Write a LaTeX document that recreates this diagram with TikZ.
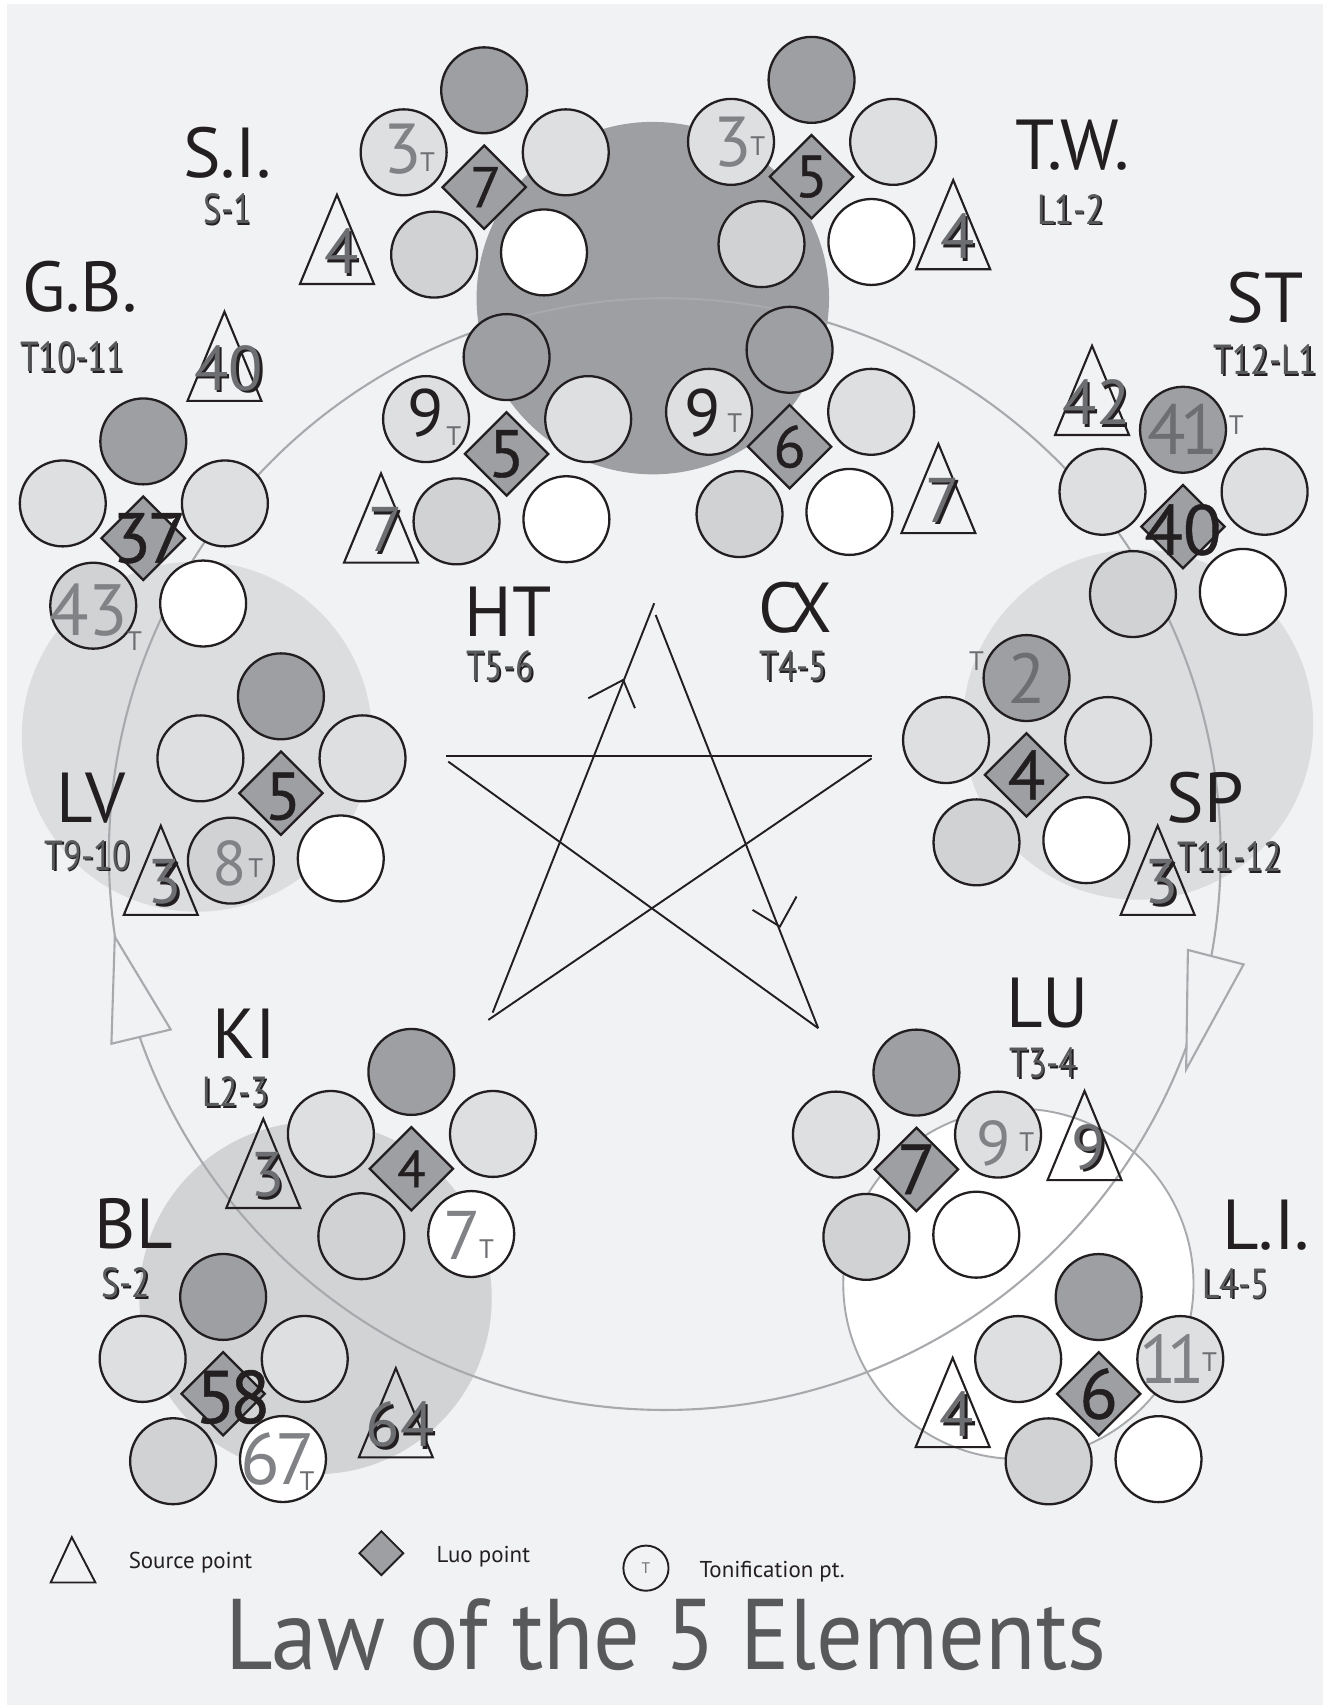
\documentclass[tikz,border=0pt]{standalone}
\usepackage{fontspec}
\setmainfont{PT Sans}
\newfontfamily\narrowfont[FakeStretch=0.8]{PT Sans}
\newfontfamily\titlefont[FakeStretch=0.92]{PT Sans}
\newfontfamily\luofont[FakeBold=0.6]{PT Sans}
\usepackage{tikz}
\usetikzlibrary{
  shapes.geometric,
  calc
}
\definecolor{pagegrey}{HTML}{F1F2F4}
\definecolor{firedark}{HTML}{9D9FA2}
\definecolor{ptlight}{HTML}{DEDFE1}
\definecolor{ptmid}{HTML}{D0D2D4}
\definecolor{zonelight}{HTML}{DCDDDF}
\definecolor{zonemid}{HTML}{D1D3D5}
\definecolor{ringgrey}{HTML}{A7A9AC}
\definecolor{numgrey}{HTML}{808285}
\definecolor{tgrey}{HTML}{6D6E71}
\definecolor{subgrey}{HTML}{58595B}
\definecolor{inkblack}{HTML}{231F20}
\newcommand{\dropsh}[1]{\leavevmode\rlap{\kern0.04em\raisebox{-0.04em}{\color{inkblack}#1}}#1}

\begin{document}
\begin{tikzpicture}[
    x=0.02cm, y=-0.02cm,
    pt/.style={circle, draw=inkblack, line width=1.2pt, minimum size=1.58cm, inner sep=0pt},
    luo/.style={diamond, draw=inkblack, line width=1.2pt, fill=firedark, minimum width=1.55cm, minimum height=1.55cm, inner sep=0pt},
    srcline/.style={draw=inkblack, line width=1.1pt},
    starline/.style={draw=inkblack, line width=1pt},
    organ/.style={inner sep=0pt, font=\fontsize{37}{40}\selectfont, text=inkblack},
    spine/.style={inner sep=0pt, font=\narrowfont\fontsize{22}{24}\selectfont, text=subgrey},
    luonum/.style={inner sep=0pt, font=\luofont\fontsize{#1}{#1}\selectfont, text=inkblack},
    srcnum/.style={inner sep=0pt, font=\fontsize{33}{33}\selectfont, text=tgrey},
    tonnum/.style={inner sep=0pt, font=\fontsize{#1}{#1}\selectfont, text=numgrey},
    tmark/.style={inner sep=0pt, font=\fontsize{14}{14}\selectfont, text=tgrey},
    legtext/.style={inner sep=0pt, font=\fontsize{12}{12}\selectfont, text=inkblack},
    cluster/.pic={
      \node[pt, fill=firedark] (-t) at (0,-89) {};
      \node[pt, fill=ptlight] (-l) at (-74,-32) {};
      \node[pt, fill=ptlight] (-r) at (75,-32) {};
      \node[pt, fill=ptmid] (-bl) at (-46,62) {};
      \node[pt, fill=white] (-br) at (55,60) {};
      \node[luo] (-d) at (0,0) {};
    },
    source/.pic={
      \draw[srcline] (-34,0) -- (0,-82) -- (34,0) -- cycle;
      \node[srcnum] (-n) at (4,-29) {\dropsh{#1}};
    },
]

% === Page ===
\fill[white] (0,0) rectangle (1217,1568);
\fill[pagegrey] (6,4) rectangle (1216,1567);
\useasboundingbox (0,0) rectangle (1217,1568);

% === Element zones ===
\fill[firedark] (600,274) circle[radius=3.24cm];
\fill[zonelight] (181,677) circle[radius=3.22cm];
\fill[zonelight] (1046,666) circle[radius=3.22cm];
\fill[zonemid] (290,1193) circle[radius=3.24cm];
\filldraw[fill=white, draw=ringgrey, line width=1pt] (936,1180) circle[radius=3.22cm];

% === Generation cycle ===
\draw[ringgrey, line width=1.1pt] (611,785) circle[radius=10.22cm];
\filldraw[fill=pagegrey, draw=ringgrey, line width=1.1pt] (105.5,861) -- (102.4,959.3) -- (156.9,946.2) -- cycle;
\filldraw[fill=pagegrey, draw=ringgrey, line width=1.1pt] (1091.8,873.1) -- (1143,886.4) -- (1090.2,982.9) -- cycle;

% === Point groups ===
\pic (si) at (445,172) {cluster};
\pic (tw) at (745.9,162.4) {cluster};
\pic (ht) at (465.6,417.2) {cluster};
\pic (cx) at (725.7,410.5) {cluster};
\pic (gb) at (131.7,494.7) {cluster};
\pic (st) at (1087.3,484) {cluster};
\pic (lv) at (258.2,729) {cluster};
\pic (sp) at (943.5,712.2) {cluster};
\pic (ki) at (378.1,1074.2) {cluster};
\pic (bl) at (205.1,1281) {cluster};
\pic (lu) at (842.3,1074.8) {cluster};
\pic (li) at (1009.8,1281.1) {cluster};

% === Source points ===
\pic (sisrc) at (309.7,261) {source=4};
\pic (twsrc) at (876.1,247.5) {source=4};
\pic (htsrc) at (350.2,517.1) {source=7};
\pic (cxsrc) at (862.5,490) {source=7};
\pic (gbsrc) at (206.3,368.5) {source=40};
\pic (stsrc) at (1003.7,399.8) {source=42};
\pic (lvsrc) at (147.8,840.9) {source=3};
\pic (spsrc) at (1064,840.9) {source=3};
\pic (kisrc) at (242,1110.3) {source=3};
\pic (blsrc) at (363.8,1339.5) {source=64};
\pic (lusrc) at (996.8,1084.7) {source=9};
\pic (lisrc) at (875.6,1330) {source=4};

% === Luo points ===
\node[luonum=30] (siluo) at ($(si-d)+(1.5,0)$) {7};
\node[luonum=31] (twluo) at (tw-d) {5};
\node[luonum=35] (htluo) at (ht-d) {5};
\node[luonum=31] (cxluo) at (cx-d) {6};
\node[luonum=37] (gbluo) at ($(gb-d)+(5.5,0)$) {3\kern-0.05em 7};
\node[luonum=37] (stluo) at ($(st-d)+(0,3)$) {40};
\node[luonum=35] (lvluo) at ($(lv-d)+(2,3)$) {5};
\node[luonum=36] (spluo) at (sp-d) {4};
\node[luonum=27] (kiluo) at (ki-d) {4};
\node[luonum=39] (blluo) at ($(bl-d)+(9,3)$) {5\kern-0.08em 8};
\node[luonum=37] (luluo) at (lu-d) {7};
\node[luonum=37] (liluo) at (li-d) {6};

% === Tonification points ===
\node[tonnum=37] (siton) at ($(si-l)+(-1,-3)$) {3};
\node[tmark] at ($(si-l)+(22,9)$) {T};
\node[tonnum=37] (twton) at ($(tw-l)+(2,0)$) {3};
\node[tmark] at ($(tw-l)+(24.5,4)$) {T};
\node[tonnum=35, text=inkblack] (htton) at ($(ht-l)+(0,-5.5)$) {9};
\node[tmark] at ($(ht-l)+(25.4,16)$) {T};
\node[tonnum=35, text=inkblack] (cxton) at ($(cx-l)+(-6,1.6)$) {9};
\node[tmark] at ($(cx-l)+(23.7,10.7)$) {T};
\node[tonnum=37, text=tgrey] (stton) at (st-t) {4\kern-0.08em 1};
\node[tmark] at ($(st-t)+(49,-4.6)$) {T};
\node[tonnum=38] (gbton) at ($(gb-bl)+(-4,4)$) {43};
\node[tmark] at ($(gb-bl)+(38,33)$) {T};
\node[tonnum=33] (lvton) at ($(lv-bl)+(-1,3)$) {8};
\node[tmark] at ($(lv-bl)+(23,7)$) {T};
\node[tonnum=37, text=tgrey] (spton) at (sp-t) {2};
\node[tmark] at ($(sp-t)+(-46,-15.4)$) {T};
\node[tonnum=36] (kiton) at ($(ki-br)+(-8,1.6)$) {7};
\node[tmark] at ($(ki-br)+(14,14)$) {T};
\node[tonnum=38] (blton) at ($(bl-br)+(-5,0)$) {6\kern-0.06em 7};
\node[tmark] at ($(bl-br)+(22,20)$) {T};
\node[tonnum=33] (luton) at ($(lu-r)+(-4,8)$) {9};
\node[tmark] at ($(lu-r)+(26.5,6.7)$) {T};
\node[tonnum=36] (liton) at ($(li-r)+(-7,0)$) {1\kern-0.14em 1};
\node[tmark] at ($(li-r)+(27,2.4)$) {T};

% === Organ labels ===
\node[organ] (lab-si) at (209,140) {S.I.};
\node[spine] (sub-si) at (209,193) {\dropsh{S-1}};
\node[organ] (lab-tw) at (985.6,133) {T.W.};
\node[spine] (sub-tw) at (984,193) {\dropsh{L1-2}};
\node[organ] (lab-gb) at (73.5,263.5) {G.B.};
\node[spine] (sub-gb) at (66.5,328.6) {\dropsh{T10-11}};
\node[organ] (lab-st) at (1163,274) {ST};
\node[spine] (sub-st) at (1163,331.6) {\dropsh{T12-L1}};
\node[organ] (lab-ht) at (467,562) {HT};
\node[spine] (sub-ht) at (459.5,613) {\dropsh{T5-6}};
\node[organ] (lab-cx) at (730.6,559) {C\kern-0.15em X};
\node[spine] (sub-cx) at (729,613) {\dropsh{T4-5}};
\node[organ] (lab-lv) at (83.5,733.6) {LV};
\node[spine] (sub-lv) at (80.4,787) {\dropsh{T9-10}};
\node[organ] (lab-sp) at (1108,733.6) {SP};
\node[spine] (sub-sp) at (1130.4,788) {\dropsh{T11-12}};
\node[organ] (lab-ki) at (224.8,950.4) {KI};
\node[spine] (sub-ki) at (216.6,1004.4) {\dropsh{L2-3}};
\node[organ] (lab-bl) at (123,1125) {BL};
\node[spine] (sub-bl) at (115.7,1180) {\dropsh{S-2}};
\node[organ] (lab-lu) at (962.9,921.8) {LU};
\node[spine] (sub-lu) at (958.8,978) {\dropsh{T3-4}};
\node[organ] (lab-li) at (1163.7,1125.9) {L.I.};
\node[spine] (sub-li) at (1135.6,1180.3) {\dropsh{L4-5}};

% === Control star ===
\draw[starline] (452.8,930.7) -- (601.3,554.4);
\draw[starline] (602.6,565.2) -- (752,945);
\draw[starline] (409.9,694.5) -- (801.1,694.5);
\draw[starline] (801.1,697) -- (448.8,937.4);
\draw[starline] (412,700) -- (752,945);
\draw[starline] (540.7,641.8) -- (572.8,624.9) -- (583.6,650.9);
\draw[starline] (691.7,836.3) -- (716.8,851.6) -- (732.1,824);

% === Legend ===
\draw[srcline, line width=1pt] (66,1412.8) -- (87.7,1454.5) -- (46.6,1454.5) -- cycle;
\node[legtext, anchor=base west] (leg-src) at (118,1441.3) {Source point};
\node[luo, line width=1pt, minimum width=0.82cm, minimum height=0.82cm] (leg-luo) at (350.5,1427.5) {};
\node[legtext, anchor=base west] (leg-luotxt) at (401,1436) {Luo point};
\node[pt, line width=1pt, minimum size=0.83cm, fill=pagegrey] (leg-ton) at (593.7,1441.3) {};
\node[inner sep=0pt, font=\fontsize{8}{8}\selectfont, text=tgrey] at (leg-ton) {T};
\node[legtext, anchor=base west] (leg-tontxt) at (642.7,1449.6) {Tonification pt.};

% === Title ===
\node[inner sep=0pt, anchor=base, font=\titlefont\fontsize{52.5}{56}\selectfont, text=subgrey] (title) at (612,1534.7) {Law of the 5 Elements};

\end{tikzpicture}
\end{document}
